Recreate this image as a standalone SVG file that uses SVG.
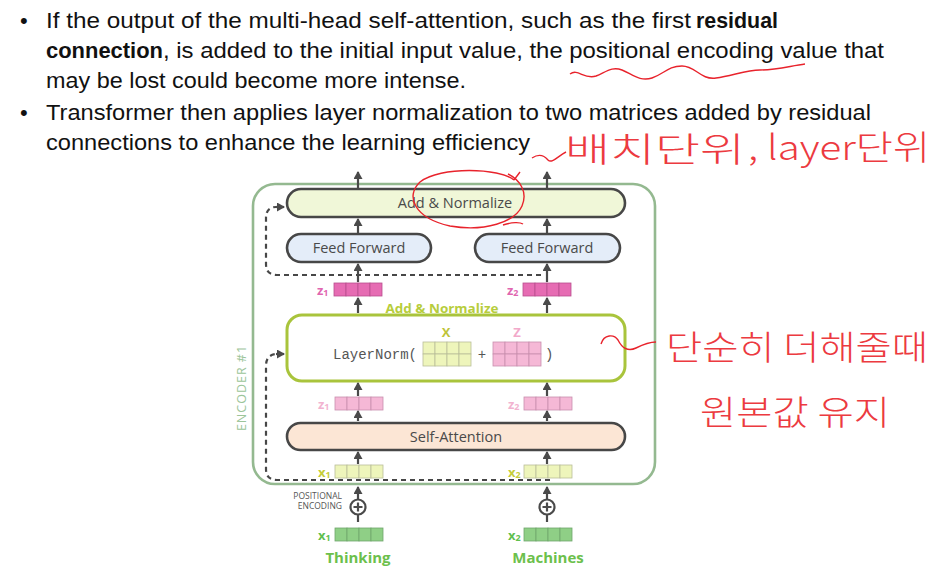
<svg xmlns="http://www.w3.org/2000/svg" xmlns:xlink="http://www.w3.org/1999/xlink" width="937" height="572" viewBox="0 0 937 572">
<style>
.body{font-family:"Liberation Sans","Noto Sans",sans-serif;font-size:22px;fill:#111}
.b{font-weight:bold}
.lbl{font-family:"Open Sans","Noto Sans",sans-serif;font-size:14.5px;fill:#4a4a4a;text-anchor:middle}
.box{stroke:#474747;stroke-width:2.6}
.arr{stroke:#4a4a4a;stroke-width:2.2;fill:none;marker-end:url(#ah)}
.dash{stroke:#474747;stroke-width:2.2;fill:none;stroke-dasharray:5 4}
.sub{font-family:"Open Sans","Noto Sans",sans-serif;font-weight:bold;font-size:13px}
.red{stroke:#e8232c;stroke-width:1.4;fill:none}
.hw{font-family:"Noto Sans CJK KR","Noto Sans",sans-serif;fill:#ec3a40;font-weight:300}
.pk{fill:#e66cb3;stroke:#b84f8e;stroke-width:0.8}
.lpk{fill:#f5b8d6;stroke:#c98fae;stroke-width:0.8}
.yg{fill:#eef5bb;stroke:#b9bd9a;stroke-width:0.8}
.gr{fill:#8fcf86;stroke:#6fa56b;stroke-width:0.8}
</style>
<defs>
<marker id="ah" markerWidth="9" markerHeight="9" refX="7" refY="4.5" orient="auto" markerUnits="userSpaceOnUse">
<path d="M0,0 L8,4.5 L0,9 z" fill="#4a4a4a"/>
</marker>
<g id="cells4">
<rect x="0" y="0" width="12" height="13"/><rect x="12" y="0" width="12" height="13"/><rect x="24" y="0" width="12" height="13"/><rect x="36" y="0" width="12" height="13"/>
</g>
<g id="mat">
<rect x="0" y="0" width="12" height="12"/><rect x="12" y="0" width="12" height="12"/><rect x="24" y="0" width="12" height="12"/><rect x="36" y="0" width="12" height="12"/>
<rect x="0" y="12" width="12" height="12"/><rect x="12" y="12" width="12" height="12"/><rect x="24" y="12" width="12" height="12"/><rect x="36" y="12" width="12" height="12"/>
</g>
</defs>
<rect width="937" height="572" fill="#ffffff"/>

<g id="bullets">
<text class="body" x="20" y="28">•</text>
<text class="body" x="46" y="28" textLength="645" lengthAdjust="spacingAndGlyphs">If the output of the multi-head self-attention, such as the first</text>
<text class="body b" x="696" y="28" textLength="82" lengthAdjust="spacingAndGlyphs">residual</text>
<text class="body b" x="46" y="58" textLength="117" lengthAdjust="spacingAndGlyphs">connection</text>
<text class="body" x="163" y="58" textLength="721" lengthAdjust="spacingAndGlyphs">, is added to the initial input value, the positional encoding value that</text>
<text class="body" x="46" y="88" textLength="420" lengthAdjust="spacingAndGlyphs">may be lost could become more intense.</text>
<text class="body" x="20" y="120">•</text>
<text class="body" x="46" y="120" textLength="825" lengthAdjust="spacingAndGlyphs">Transformer then applies layer normalization to two matrices added by residual</text>
<text class="body" x="46" y="150" textLength="484" lengthAdjust="spacingAndGlyphs">connections to enhance the learning efficiency</text>
</g>

<g id="encoder">
<rect x="253" y="184" width="402" height="300" rx="22" fill="none" stroke="#94b990" stroke-width="2.6"/>
<text x="246" y="388" transform="rotate(-90 246 388)" text-anchor="middle" font-family="Open Sans, Noto Sans, sans-serif" font-size="12.5" fill="#9cc59a" letter-spacing="1">ENCODER #1</text>
</g>

<g id="addnorm-top">
<rect class="box" x="287" y="189" width="338" height="28" rx="14" fill="#f0f7d8"/>
<text class="lbl" x="455" y="208" font-size="13.5">Add &amp; Normalize</text>
</g>
<g id="ff-left">
<rect class="box" x="287" y="234" width="144" height="28" rx="14" fill="#e4edf9"/>
<text class="lbl" x="359" y="253">Feed Forward</text>
</g>
<g id="ff-right">
<rect class="box" x="475" y="234" width="145" height="28" rx="14" fill="#e4edf9"/>
<text class="lbl" x="547" y="253">Feed Forward</text>
</g>

<g id="z-dark">
<text class="sub" x="317" y="295" fill="#e066b0">z<tspan font-size="9" dy="1">1</tspan></text>
<use xlink:href="#cells4" x="334" y="283" class="pk"/>
<text class="sub" x="507" y="295" fill="#e066b0">z<tspan font-size="9" dy="1">2</tspan></text>
<use xlink:href="#cells4" x="523" y="283" class="pk"/>
</g>

<g id="addnorm-label">
<text class="sub" x="442" y="313" text-anchor="middle" fill="#b7cd3c" textLength="113" lengthAdjust="spacingAndGlyphs">Add &amp; Normalize</text>
</g>

<g id="layernorm">
<rect x="287" y="315" width="338" height="66" rx="15" fill="#ffffff" stroke="#a9c43c" stroke-width="3"/>
<text x="333" y="359" font-family="Liberation Mono, DejaVu Sans Mono, monospace" font-size="14" fill="#555">LayerNorm(</text>
<text class="sub" x="446" y="337" text-anchor="middle" fill="#bec43a" font-size="14">X</text>
<use xlink:href="#mat" x="423" y="342" class="yg"/>
<text x="482" y="359" text-anchor="middle" font-family="Liberation Mono, monospace" font-size="14" fill="#555">+</text>
<text class="sub" x="517" y="337" text-anchor="middle" fill="#f2a9ca" font-size="14">Z</text>
<use xlink:href="#mat" x="493" y="342" class="lpk"/>
<text x="545" y="359" font-family="Liberation Mono, monospace" font-size="14" fill="#555">)</text>
</g>

<g id="z-light">
<text class="sub" x="318" y="409" fill="#f2b3d0">z<tspan font-size="9" dy="1">1</tspan></text>
<use xlink:href="#cells4" x="335" y="397" class="lpk"/>
<text class="sub" x="508" y="409" fill="#f2b3d0">z<tspan font-size="9" dy="1">2</tspan></text>
<use xlink:href="#cells4" x="524" y="397" class="lpk"/>
</g>

<g id="self-attention">
<rect class="box" x="287" y="423" width="338" height="27" rx="13.5" fill="#fce6d5"/>
<text class="lbl" x="456" y="442">Self-Attention</text>
</g>

<g id="x-embed">
<text class="sub" x="318" y="477" fill="#c5cd3a">x<tspan font-size="9" dy="1">1</tspan></text>
<use xlink:href="#cells4" x="335" y="465" class="yg"/>
<text class="sub" x="508" y="477" fill="#c5cd3a">x<tspan font-size="9" dy="1">2</tspan></text>
<use xlink:href="#cells4" x="524" y="465" class="yg"/>
</g>

<g id="pos-enc">
<text x="342" y="499" text-anchor="end" font-family="Open Sans, Noto Sans, sans-serif" font-size="8.5" fill="#555">POSITIONAL</text>
<text x="342" y="509" text-anchor="end" font-family="Open Sans, Noto Sans, sans-serif" font-size="8.5" fill="#555">ENCODING</text>
<circle cx="358" cy="507" r="7.5" fill="#fff" stroke="#4a4a4a" stroke-width="2.2"/>
<path d="M353.5,507 H362.5 M358,502.5 V511.5" stroke="#4a4a4a" stroke-width="2.2"/>
<circle cx="547" cy="507" r="7.5" fill="#fff" stroke="#4a4a4a" stroke-width="2.2"/>
<path d="M542.5,507 H551.5 M547,502.5 V511.5" stroke="#4a4a4a" stroke-width="2.2"/>
</g>

<g id="inputs">
<text class="sub" x="318" y="540" fill="#5fbf4f">x<tspan font-size="9" dy="1">1</tspan></text>
<use xlink:href="#cells4" x="335" y="528" class="gr"/>
<text class="sub" x="508" y="540" fill="#5fbf4f">x<tspan font-size="9" dy="1">2</tspan></text>
<use xlink:href="#cells4" x="524" y="528" class="gr"/>
<text x="358" y="563" text-anchor="middle" font-family="Open Sans, Noto Sans, sans-serif" font-weight="bold" font-size="15" fill="#6cc04c">Thinking</text>
<text x="548" y="563" text-anchor="middle" font-family="Open Sans, Noto Sans, sans-serif" font-weight="bold" font-size="15" fill="#6cc04c">Machines</text>
</g>

<g id="connectors">
<line class="arr" x1="358" y1="188" x2="358" y2="172"/>
<line class="arr" x1="547" y1="188" x2="547" y2="172"/>
<line class="arr" x1="358" y1="233" x2="358" y2="219"/>
<line class="arr" x1="547" y1="233" x2="547" y2="219"/>
<line class="arr" x1="358" y1="282" x2="358" y2="264"/>
<line class="arr" x1="547" y1="282" x2="547" y2="264"/>
<line class="arr" x1="358" y1="313" x2="358" y2="298"/>
<line class="arr" x1="547" y1="313" x2="547" y2="298"/>
<line class="arr" x1="358" y1="396" x2="358" y2="383"/>
<line class="arr" x1="547" y1="396" x2="547" y2="383"/>
<line class="arr" x1="358" y1="421" x2="358" y2="411"/>
<line class="arr" x1="547" y1="421" x2="547" y2="411"/>
<line class="arr" x1="358" y1="464" x2="358" y2="452"/>
<line class="arr" x1="547" y1="464" x2="547" y2="452"/>
<line class="arr" x1="358" y1="499" x2="358" y2="487"/>
<line class="arr" x1="547" y1="499" x2="547" y2="487"/>
<line x1="358" y1="514" x2="358" y2="522" stroke="#4a4a4a" stroke-width="2.2"/>
<line x1="547" y1="514" x2="547" y2="522" stroke="#4a4a4a" stroke-width="2.2"/>
<path class="dash" d="M541,275 H277 Q266,275 266,264 V218 Q266,207 276,207"/>
<line class="arr" x1="276" y1="207" x2="284" y2="207"/>
<path class="dash" d="M550,480 H277 Q266,480 266,469 V366 Q266,355 276,354"/>
<line class="arr" x1="276" y1="354" x2="284" y2="354"/>
</g>

<g id="annotations">
<path class="red" d="M514,180 C500,168 440,166 420,182 C405,196 414,218 450,226 C485,232 515,222 522,206 C528,192 520,180 508,174 M503,225 C512,222 520,222 523,224 M514,180 L520,172"/>
<path class="red" d="M570,74 C578,68 584,80 596,76 C606,72 612,66 622,70 C632,74 640,82 652,78 C664,74 668,66 682,66 C696,66 700,80 716,78 C732,76 746,70 760,70 C776,70 790,66 805,64"/>
<path class="red" d="M532,158 C538,154 543,154 548,160 C552,164 558,156 566,152"/>
<path class="red" d="M601,344 C604,334 614,334 618,340 C622,348 628,352 636,348 C642,345 648,342 656,342"/>
<text class="hw" x="565" y="162" font-size="34" textLength="180" lengthAdjust="spacingAndGlyphs">배치단위</text>
<text class="hw" x="748" y="160" font-size="34" textLength="182" lengthAdjust="spacingAndGlyphs">, layer단위</text>
<text class="hw" x="666" y="360" font-size="34" textLength="262" lengthAdjust="spacingAndGlyphs">단순히 더해줄때</text>
<text class="hw" x="700" y="425" font-size="34" textLength="190" lengthAdjust="spacingAndGlyphs">원본값 유지</text>
</g>
</svg>
